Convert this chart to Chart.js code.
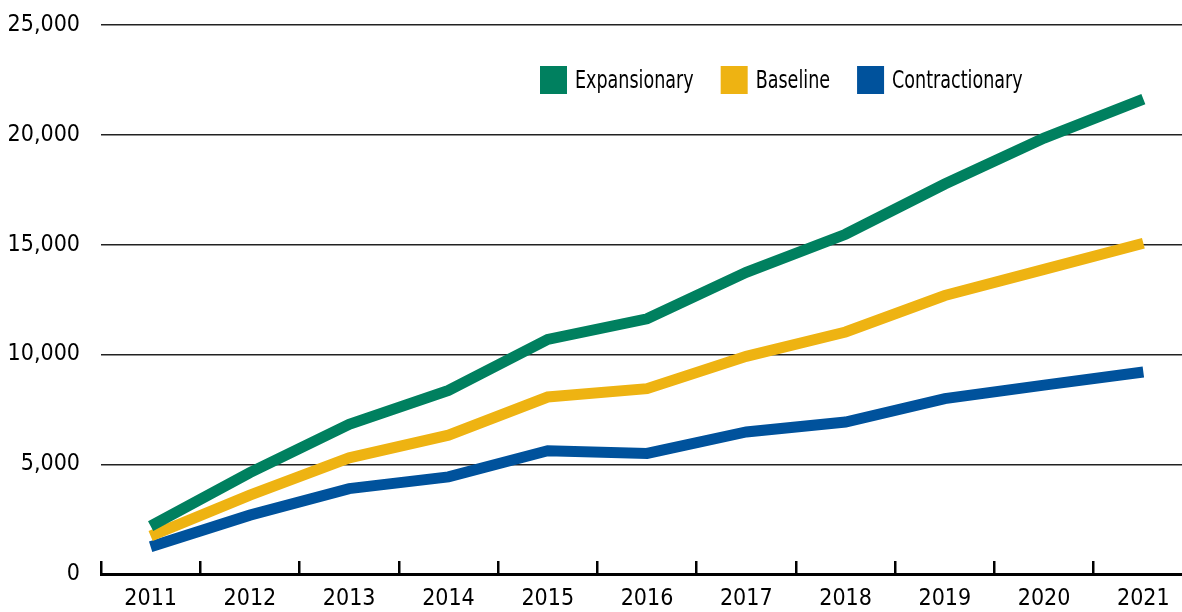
<!DOCTYPE html>
<html>
<head>
<meta charset="utf-8">
<script src="https://cdn.jsdelivr.net/npm/chart.js@4"></script>
<style>
  html, body { margin: 0; padding: 0; background: #fff; overflow: hidden; }
  #wrap { position: relative; width: 1196px; height: 612px; }
</style>
</head>
<body>
<div id="wrap"><canvas id="myChart"></canvas></div>
<script>
var years = ['2011', '2012', '2013', '2014', '2015', '2016', '2017', '2018', '2019', '2020', '2021'];
var expansionary = [2180, 4620, 6820, 8360, 10680, 11620, 13740, 15470, 17760, 19850, 21620];
var baseline = [1730, 3590, 5290, 6320, 8060, 8440, 9910, 11020, 12680, 13870, 15060];
var contractionary = [1240, 2680, 3890, 4420, 5610, 5490, 6470, 6920, 7990, 8600, 9200];
var yTicks = [0, 5000, 10000, 15000, 20000, 25000];

var fontFamily = "'Liberation Sans Narrow', 'DejaVu Sans Condensed', 'Liberation Sans', sans-serif";

// legend drawn inside the plot area, like the original
var insideLegend = {
  id: 'insideLegend',
  afterDraw: function(chart) {
    var ctx = chart.ctx;
    var x = 540, y = 66, squeeze = 0.78;
    ctx.save();
    ctx.font = '25px ' + fontFamily;
    ctx.textBaseline = 'middle';
    chart.data.datasets.forEach(function(ds) {
      ctx.fillStyle = ds.borderColor;
      ctx.fillRect(x, y, 27, 28);
      var w = ctx.measureText(ds.label).width * squeeze;
      ctx.save();
      ctx.translate(x + 35, y + 15);
      ctx.scale(squeeze, 1);
      ctx.fillStyle = '#000';
      ctx.fillText(ds.label, 0, 0);
      ctx.restore();
      x += 35 + w + 27;
    });
    ctx.restore();
  }
};

var ctx = document.getElementById('myChart');
var myChart = new Chart(ctx, {
  type: 'line',
  data: {
    labels: years,
    datasets: [{
      label: 'Expansionary',
      data: expansionary,
      borderColor: '#00805f',
      backgroundColor: '#00805f',
      borderWidth: 11,
      pointRadius: 0,
      tension: 0
    }, {
      label: 'Baseline',
      data: baseline,
      borderColor: '#eeb312',
      backgroundColor: '#eeb312',
      borderWidth: 11,
      pointRadius: 0,
      tension: 0
    }, {
      label: 'Contractionary',
      data: contractionary,
      borderColor: '#00529c',
      backgroundColor: '#00529c',
      borderWidth: 11,
      pointRadius: 0,
      tension: 0
    }]
  },
  options: {
    responsive: true,
    maintainAspectRatio: false,
    animation: false,
    layout: {
      padding: { top: 25, right: 3, bottom: 0, left: 0 }
    },
    plugins: {
      legend: { display: false },
      tooltip: { enabled: false }
    },
    scales: {
      x: {
        offset: true,
        afterFit: function(scale) {
          scale.height = 38;
        },
        grid: {
          offset: true,
          drawOnChartArea: false,
          drawTicks: true,
          tickLength: -13,
          color: '#000',
          lineWidth: 2.5
        },
        border: { display: true, color: '#000', width: 3 },
        ticks: {
          color: '#000',
          padding: 24,
          font: { family: fontFamily, size: 23 }
        }
      },
      y: {
        min: 0,
        max: 25000,
        afterBuildTicks: function(scale) {
          scale.ticks = yTicks.map(function(v) { return { value: v }; });
        },
        afterFit: function(scale) {
          scale.width = 101;
          scale.paddingTop = 0;
          scale.paddingBottom = 0;
        },
        grid: {
          color: function(c) { return c.tick.value === 0 ? 'rgba(0,0,0,0)' : '#222'; },
          lineWidth: 1.4,
          drawTicks: false
        },
        border: { display: false },
        ticks: {
          color: '#000',
          padding: 21,
          font: { family: fontFamily, size: 23 },
          callback: function(v) { return v.toLocaleString('en-US'); }
        }
      }
    }
  },
  plugins: [insideLegend]
});
</script>
</body>
</html>
